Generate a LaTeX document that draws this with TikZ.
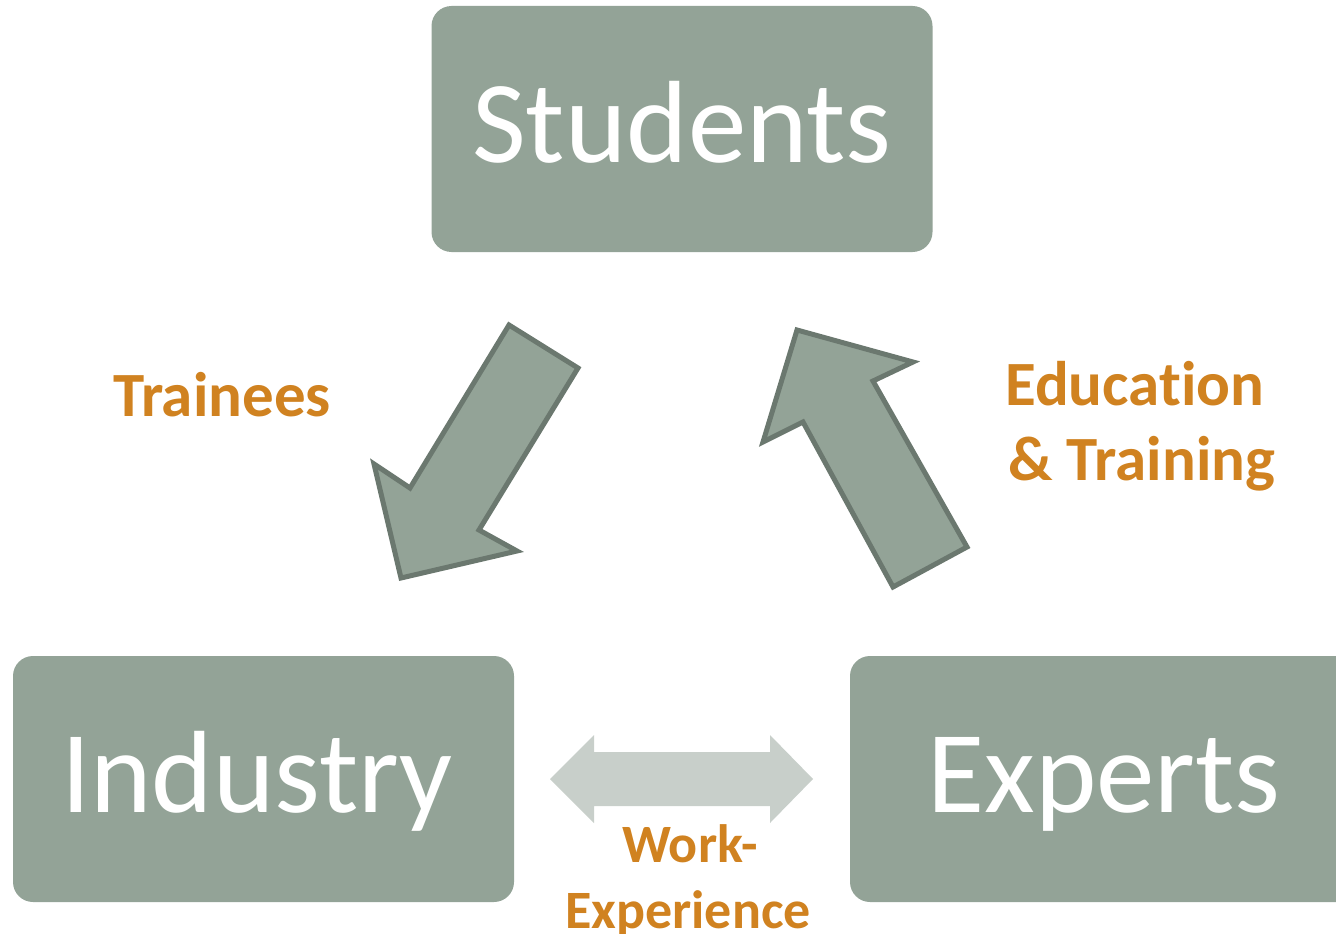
\documentclass[tikz,border=0pt]{standalone}
\usepackage{fontspec}
\setmainfont[Ligatures=NoCommon]{Carlito}
\definecolor{boxfill}{HTML}{93A397}
\definecolor{arrowline}{HTML}{6B786F}
\definecolor{lightarrow}{HTML}{C8CFCA}
\definecolor{labelorange}{HTML}{D08220}
\begin{document}
\begin{tikzpicture}[x=1pt,y=-1pt,
  box/.style={fill=boxfill, rounded corners=20pt, inner sep=0pt, minimum height=246pt},
  boxtext/.style={text=white, anchor=base, inner sep=0pt, font=\fontsize{117}{120}\selectfont},
  lbl/.style={text=labelorange, inner sep=0pt, font=\bfseries\fontsize{63}{75}\selectfont},
  smalllbl/.style={text=labelorange, inner sep=0pt, font=\bfseries\fontsize{54}{65}\selectfont},
  blockarrow/.style={fill=boxfill, draw=arrowline, line width=5pt, line join=miter}]
\useasboundingbox (0,0) rectangle (1336,934);
% boxes
\node[box, minimum width=501pt] (students) at (682,129) {};
\node[box, minimum width=501pt] (industry) at (263.5,779) {};
\begin{scope}
\clip (0,0) rectangle (1336,934);
\node[box, minimum width=506pt] (experts) at (1103,779) {};
\end{scope}
\node[boxtext] (tstudents) at (682,162) {Students};
\node[boxtext] (tindustry) at (257,812) {Industry};
\node[boxtext] (texperts) at (1104,812) {Experts};
% block arrows
\draw[blockarrow] (509,325) -- (578,368) -- (479,530) -- (517,551) -- (401,578) -- (374,464) -- (410,488) -- cycle;
\draw[blockarrow] (797,330) -- (913,362) -- (873,381) -- (967,547) -- (893,587) -- (803,422) -- (763,442) -- cycle;
\fill[lightarrow] (550,779) -- (594,735) -- (594,752) -- (770,752) -- (770,735) -- (813,779) -- (770,823) -- (770,806) -- (594,806) -- (594,823) -- cycle;
% labels
\node[lbl, anchor=base] (ltrainees) at (222,416) {Trainees};
\node[lbl, anchor=base west] (leducation) at (1005,405) {Education};
\node[lbl, anchor=base west] (ltraining) at (1008,480) {\& Training};
\node[smalllbl, anchor=base] (lwork) at (690,862) {Work-};
\node[smalllbl, anchor=base] (lexperience) at (688,928) {Experience};
\end{tikzpicture}
\end{document}
